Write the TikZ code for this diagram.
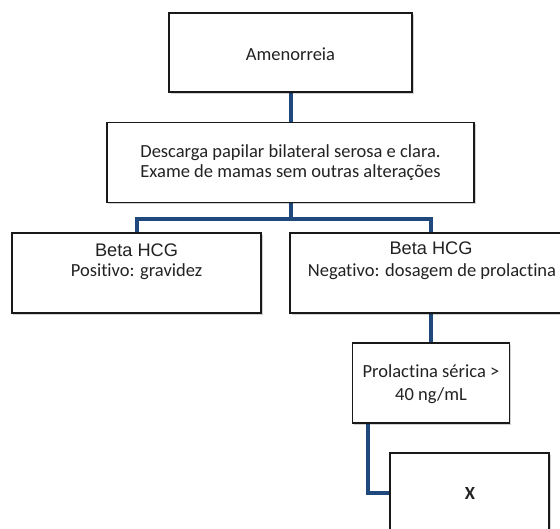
\documentclass[tikz,border=0pt]{standalone}
\usepackage{fontspec}
\setmainfont{Carlito}[Ligatures=NoCommon]
\newfontfamily\arialf{Liberation Sans}
\usetikzlibrary{shadows}
\definecolor{connc}{HTML}{1F497D}
\definecolor{txt}{HTML}{222222}
\pgfdeclarelayer{bg}
\pgfsetlayers{bg,main}
\begin{document}
\begin{tikzpicture}[x=1bp,y=-1bp,
  box/.style={draw=black!90, line width=1.4bp, fill=white, rectangle, inner sep=0pt,
    drop shadow={shadow xshift=1.5bp, shadow yshift=-1.8bp, fill=black, opacity=0.18}},
  conn/.style={draw=connc, line width=4bp},
  lbl/.style={text=txt, font=\fontsize{18.5bp}{20bp}\selectfont, align=center, inner sep=0pt},
  albl/.style={text=txt, font=\arialf\fontsize{18.2bp}{20bp}\selectfont, align=center, inner sep=0pt}
]
\clip (0,0) rectangle (560,529);
% boxes
\node[box, minimum width=243bp, minimum height=79bp] (amen) at (290.5,52.5) {};
\node[box, minimum width=367bp, minimum height=80bp] (desc) at (290.5,162.5) {};
\node[box, minimum width=249bp, minimum height=80bp] (betaL) at (136.5,273) {};
\node[box, minimum width=282bp, minimum height=80bp] (betaR) at (431,273) {};
\node[box, minimum width=157bp, minimum height=80bp] (prol) at (431,383) {};
\node[box, minimum width=159bp, minimum height=80bp] (xbox) at (469.5,493) {};
% texts
\node[lbl] (tamen) at (290.5,54) {Amenorreia};
\node[lbl] (tdesc) at (290.5,163) {Descarga papilar bilateral serosa e clara.\\Exame de mamas sem outras alterações};
\node[albl] (tbl1) at (136.5,250) {Beta HCG};
\node[lbl] (tbl2) at (136.5,272) {Positivo: gravidez};
\node[albl] (tbr1) at (431,248) {Beta HCG};
\node[lbl] (tbr2) at (432,272) {Negativo: dosagem de prolactina};
\node[lbl, font=\fontsize{18.5bp}{23bp}\selectfont] (tprol) at (431,384.5) {Prolactina sérica >\\40 ng/mL};
\node[lbl, font=\bfseries\fontsize{18.5bp}{20bp}\selectfont] (tx) at (470,493) {X};
% connectors
\coordinate (br) at (290.5,219);
\begin{pgfonlayer}{bg}
\draw[conn] (amen.south) -- (desc.north);
\draw[conn] (desc.south) -- (br);
\draw[conn] (betaL.north) |- (br) -| (betaR.north);
\draw[conn] (betaR.south) -- (prol.north);
\draw[conn] ([xshift=16bp]prol.south west) |- (xbox.west);
\end{pgfonlayer}
\end{tikzpicture}
\end{document}
